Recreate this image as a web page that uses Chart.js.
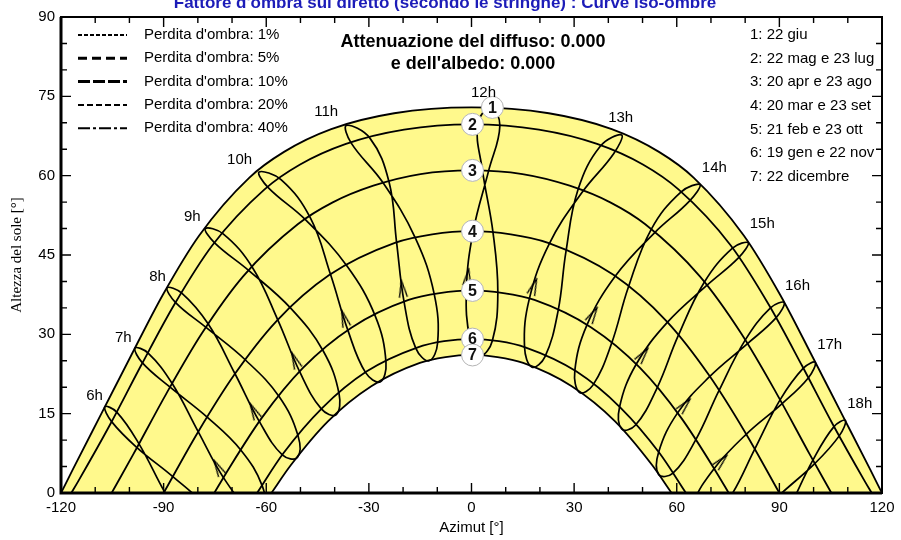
<!DOCTYPE html>
<html>
<head>
<meta charset="utf-8">
<script src="https://cdn.jsdelivr.net/npm/chart.js@4.4.1/dist/chart.umd.min.js"></script>
<style>
  html, body { margin: 0; padding: 0; background: #fff; }
  #wrap { width: 901px; height: 540px; }
</style>
</head>
<body>
<div id="wrap"><canvas id="sunChart"></canvas></div>
<script>
const xTicks = [-120, -90, -60, -30, 0, 30, 60, 90, 120];
const yTicks = [0, 15, 30, 45, 60, 75, 90];

// traiettorie giornaliere [azimut, altezza]
const jun22 = [[-120,0],[-116.5,4.5],[-108.2,15.0],[-99.5,26.0],[-90.3,37.4],[-79.6,48.7],[-65.0,59.6],[-54.8,64.5],[-41.0,68.8],[-22.6,71.8],[0,72.9],
  [22.6,71.8],[41.0,68.8],[54.8,64.5],[65.0,59.6],[79.6,48.7],[90.3,37.4],[99.5,26.0],[108.2,15.0],[116.5,4.5],[120,0]];
const mayJul = [[-117,0],[-114.9,2.3],[-105.6,13.0],[-96.6,24.1],[-87.0,35.5],[-75.8,46.8],[-60.5,57.4],[-50.1,62.1],[-36.7,66.0],[-19.7,68.7],[0,69.7],
  [19.7,68.7],[36.7,66.0],[50.1,62.1],[60.5,57.4],[75.8,46.8],[87.0,35.5],[96.6,24.1],[105.6,13.0],[114.9,2.3],[117,0]];
const aprAug = [[-105.2,0],[-98.8,7.4],[-89.2,18.8],[-78.9,30.1],[-66.7,41.0],[-50.8,50.8],[-40.7,54.9],[-28.7,58.1],[-14.9,60.3],[0,61.0],
  [14.9,60.3],[28.7,58.1],[40.7,54.9],[50.8,50.8],[66.7,41.0],[78.9,30.1],[89.2,18.8],[98.8,7.4],[105.2,0]];
const marSep = [[-90,0],[-80.1,11.35],[-69.4,22.3],[-57.0,32.5],[-41.6,41.2],[-22.4,47.3],[-11.5,48.9],[0,49.5],
  [11.5,48.9],[22.4,47.3],[41.6,41.2],[57.0,32.5],[69.4,22.3],[80.1,11.35],[90,0]];
const febOct = [[-75.2,0],[-71.7,3.8],[-61.2,14.3],[-49.2,23.7],[-35.0,31.3],[-18.4,36.5],[-9.3,37.8],[0,38.3],
  [9.3,37.8],[18.4,36.5],[35.0,31.3],[49.2,23.7],[61.2,14.3],[71.7,3.8],[75.2,0]];
const janNov = [[-62.7,0],[-55.0,7.5],[-43.6,16.1],[-30.6,23.0],[-15.9,27.5],[-8.0,28.7],[0,29.1],
  [8.0,28.7],[15.9,27.5],[30.6,23.0],[43.6,16.1],[55.0,7.5],[62.7,0]];
const dec22 = [[-58.5,0],[-52.9,5.2],[-41.9,13.6],[-29.3,20.2],[-15.1,24.6],[-7.6,25.7],[0,26.1],
  [7.6,25.7],[15.1,24.6],[29.3,20.2],[41.9,13.6],[52.9,5.2],[58.5,0]];

// linee orarie (analemmi): dic, gen, feb, mar, apr, mag, giu, lug, ago, set, ott, nov
const h06 = [[-70.2,-13.1],[-74.4,-13.4],[-82.2,-8.1],[-89.8,0.3],[-97.2,9.3],[-103.7,15.3],[-107.2,16.3],[-105.2,13.5],[-97.8,8.6],[-87.3,3.1],[-77.4,-2.7],[-70.7,-9.0]];
const h07 = [[-60.9,-2.8],[-65.2,-2.7],[-72.5,2.9],[-79.9,11.6],[-87.5,20.7],[-94.6,26.5],[-98.4,27.4],[-96.2,24.6],[-88.1,20.0],[-77.2,14.3],[-67.4,8.1],[-61.2,1.4]];
const h08 = [[-50.9,6.7],[-55.3,7.2],[-62.0,13.5],[-69.1,22.5],[-76.9,31.9],[-84.7,37.8],[-89.0,38.8],[-86.5,36.0],[-77.6,31.3],[-66.0,25.1],[-56.2,18.2],[-50.7,10.8]];
const h09 = [[-39.6,14.8],[-43.9,15.9],[-50.2,22.9],[-56.6,32.7],[-64.0,42.6],[-72.6,49.0],[-77.8,50.0],[-75.1,47.3],[-65.0,42.0],[-52.8,34.9],[-43.3,26.8],[-38.7,18.7]];
const h10 = [[-26.7,21.0],[-31.0,22.8],[-36.1,30.7],[-41.2,41.3],[-47.1,52.0],[-55.6,59.2],[-62.1,60.7],[-59.5,57.8],[-48.4,51.6],[-36.4,42.9],[-28.1,33.4],[-25.0,24.7]];
const h11 = [[-12.4,25.0],[-16.3,27.4],[-19.7,36.1],[-21.9,47.4],[-24.1,58.8],[-29.7,67.1],[-36.6,69.5],[-35.2,66.2],[-25.8,58.6],[-16.4,48.2],[-10.9,37.6],[-9.9,28.4]];
const h12 = [[2.7,26.0],[-0.4,29.1],[-1.5,38.3],[0.5,49.5],[5.0,60.9],[8.3,69.5],[5.6,72.9],[1.8,69.7],[3.2,61.0],[6.3,49.2],[7.7,37.9],[6.1,28.8]];
const h13 = [[17.7,23.8],[15.5,27.6],[16.9,36.7],[22.8,47.2],[32.4,56.9],[41.6,64.2],[43.9,67.7],[37.7,65.6],[31.1,57.3],[27.6,45.6],[25.3,34.4],[21.5,25.8]];
const h14 = [[31.6,19.0],[30.2,23.1],[33.7,31.7],[42.0,41.0],[53.5,49.2],[63.7,55.2],[66.8,58.3],[61.2,56.9],[52.5,49.8],[45.8,38.8],[40.9,28.2],[35.5,20.4]];
const h15 = [[43.9,12.1],[43.3,16.3],[48.1,24.3],[57.3,32.3],[68.7,39.2],[78.1,44.5],[80.9,47.3],[76.3,46.3],[68.0,39.8],[60.4,29.7],[54.2,19.8],[47.9,12.8]];
const h16 = [[54.7,3.5],[54.7,7.7],[60.2,15.1],[69.6,22.0],[80.6,28.2],[89.0,33.1],[91.4,36.0],[87.4,35.0],[80.0,28.9],[72.3,19.3],[65.5,10.0],[58.8,3.7]];
const h17 = [[64.3,-6.4],[64.7,-2.1],[70.9,4.6],[80.3,11.1],[90.8,16.9],[98.5,21.8],[100.5,24.7],[97.0,23.6],[90.2,17.6],[82.8,8.3],[75.7,-0.7],[68.5,-6.5]];
const h18 = [[73.5,-17.0],[74.1,-12.8],[80.6,-6.3],[90.2,-0.3],[100.4,5.6],[107.5,10.8],[109.3,13.7],[105.9,12.5],[99.8,6.2],[92.7,-3.1],[85.4,-11.9],[77.6,-17.4]];

const hourLines = [h06, h07, h08, h09, h10, h11, h12, h13, h14, h15, h16, h17, h18];
const hourLabels = ['6h', '7h', '8h', '9h', '10h', '11h', '12h', '13h', '14h', '15h', '16h', '17h', '18h'];
const hourLabelPos = [[-110.2,18.3],[-101.8,29.3],[-91.8,40.8],[-81.6,52.2],[-67.8,63.0],[-42.5,72.0],[3.5,75.6],[43.6,70.9],[71.0,61.4],[85.0,50.9],[95.3,39.1],[104.7,28.0],[113.5,16.8]];

// frecce sulle linee orarie 7h..17h
const arrowPts = [[-74.1,4.8],[-63.6,15.5],[-51.6,25.1],[-37.2,33.0],[-20.2,38.6],[-1.1,40.8],[18.2,39.0],[35.5,33.7],[50.1,26.1],[62.3,16.6],[73.0,6.0]];

const circlePos = [[6.1,72.9],[0.3,69.7],[0.3,61.0],[0.3,49.5],[0.3,38.3],[0.3,29.1],[0.3,26.1]];

const dayLabels = ['1: 22 giu', '2: 22 mag e 23 lug', '3: 20 apr e 23 ago', '4: 20 mar e 23 set',
  '5: 21 feb e 23 ott', '6: 19 gen e 22 nov', '7: 22 dicembre'];
const lossLabels = ["Perdita d'ombra: 1%", "Perdita d'ombra: 5%", "Perdita d'ombra: 10%",
  "Perdita d'ombra: 20%", "Perdita d'ombra: 40%"];

const SANS = "'Liberation Sans', Arial, sans-serif";
const YELLOW = '#fff98c';

function pts(arr) {
  return arr.map(p => ({ x: p[0], y: p[1] }));
}

// close the loop: one extra point on each side so the curve stays smooth
function loopPts(arr) {
  const n = arr.length;
  return pts([arr[n - 1], ...arr, arr[0], arr[1]]);
}

function hideWrap(ctx) {
  const last = ctx.chart.data.datasets[ctx.datasetIndex].data.length - 1;
  if (ctx.p0DataIndex === 0 || ctx.p1DataIndex === last) {
    return 'rgba(0,0,0,0)';
  }
  return undefined;
}

// arrow head image
const arrowImg = document.createElement('canvas');
arrowImg.width = 10;
arrowImg.height = 19;
(function () {
  const c = arrowImg.getContext('2d');
  c.strokeStyle = '#000';
  c.lineWidth = 1.3;
  c.beginPath();
  c.moveTo(1, 18);
  c.lineTo(5, 1);
  c.lineTo(9, 18);
  c.stroke();
})();

const datasets = [];

datasets.push({
  label: 'numeri',
  data: pts(circlePos),
  showLine: false,
  pointRadius: 11,
  pointBackgroundColor: '#fff',
  pointBorderColor: '#b4b4b4',
  pointBorderWidth: 1,
});

datasets.push({
  label: 'frecce',
  data: pts(arrowPts),
  showLine: false,
  pointStyle: arrowImg,
  pointRadius: 5,
  pointRotation: function (ctx) {
    const xs = ctx.chart.scales.x;
    const ys = ctx.chart.scales.y;
    const line = hourLines[ctx.dataIndex + 1];
    if (!xs || !ys || !line) return 0;
    const dx = xs.getPixelForValue(line[3][0]) - xs.getPixelForValue(line[2][0]);
    const dy = ys.getPixelForValue(line[3][1]) - ys.getPixelForValue(line[2][1]);
    if (!isFinite(dx) || !isFinite(dy)) return 0;
    return Math.atan2(dx, -dy) * 180 / Math.PI;
  },
});

hourLines.forEach((h, i) => {
  datasets.push({
    label: hourLabels[i],
    data: loopPts(h),
    borderColor: '#000',
    borderWidth: 1.7,
    tension: 0.4,
    pointRadius: 0,
    fill: false,
    segment: { borderColor: hideWrap },
  });
});

const dayCurves = [dec22, janNov, febOct, marSep, aprAug, mayJul, jun22];
dayCurves.forEach((d, i) => {
  const ds = {
    label: 'giorno ' + (7 - i),
    data: pts(d),
    borderColor: '#000',
    borderWidth: 1.8,
    cubicInterpolationMode: 'monotone',
    pointRadius: 0,
    fill: false,
  };
  if (d === dec22) {
    ds.fill = 'origin';
    ds.backgroundColor = '#ffffff';
  }
  if (d === jun22) {
    ds.fill = 'origin';
    ds.backgroundColor = YELLOW;
  }
  datasets.push(ds);
});

const overlay = {
  id: 'overlay',
  afterDatasetsDraw(chart) {
    const { ctx, scales: { x, y } } = chart;
    ctx.save();
    ctx.textAlign = 'center';
    ctx.textBaseline = 'middle';
    ctx.fillStyle = '#111';
    ctx.font = 'bold 16px ' + SANS;
    circlePos.forEach((p, i) => {
      ctx.fillText(String(i + 1), x.getPixelForValue(p[0]), y.getPixelForValue(p[1]) + 1);
    });
    ctx.fillStyle = '#000';
    ctx.font = '15px ' + SANS;
    hourLabels.forEach((t, i) => {
      ctx.fillText(t, x.getPixelForValue(hourLabelPos[i][0]), y.getPixelForValue(hourLabelPos[i][1]));
    });
    ctx.restore();
  },
  afterDraw(chart) {
    const { ctx, chartArea: a, scales: { x, y } } = chart;
    ctx.save();
    ctx.strokeStyle = '#000';

    // inward tick marks
    ctx.lineWidth = 1.4;
    ctx.beginPath();
    for (let v = -120; v <= 120; v += 10) {
      const px = x.getPixelForValue(v);
      const len = v % 30 === 0 ? 10 : 6;
      ctx.moveTo(px, a.bottom);
      ctx.lineTo(px, a.bottom - len);
      ctx.moveTo(px, a.top);
      ctx.lineTo(px, a.top + len);
    }
    for (let v = 0; v <= 90; v += 5) {
      const py = y.getPixelForValue(v);
      const len = v % 15 === 0 ? 10 : 6;
      ctx.moveTo(a.left, py);
      ctx.lineTo(a.left + len, py);
      ctx.moveTo(a.right, py);
      ctx.lineTo(a.right - len, py);
    }
    ctx.stroke();

    // frame
    ctx.lineWidth = 2;
    ctx.strokeRect(a.left, a.top, a.right - a.left, a.bottom - a.top);
    ctx.lineWidth = 3;
    ctx.beginPath();
    ctx.moveTo(a.left, a.top);
    ctx.lineTo(a.left, a.bottom);
    ctx.lineTo(a.right, a.bottom);
    ctx.stroke();

    // title (cut at the top like the original)
    ctx.fillStyle = '#1c1cb8';
    ctx.font = 'bold 17px ' + SANS;
    ctx.textAlign = 'center';
    ctx.textBaseline = 'alphabetic';
    ctx.fillText("Fattore d'ombra sul diretto (secondo le stringhe) : Curve iso-ombre", 445, 8);

    // attenuation text
    ctx.fillStyle = '#000';
    ctx.font = 'bold 18px ' + SANS;
    ctx.textBaseline = 'middle';
    ctx.fillText('Attenuazione del diffuso: 0.000', 473, 42);
    ctx.fillText("e dell'albedo: 0.000", 473, 64);

    // loss legend
    const dash = [[4, 2], [9, 5], [12, 3], [6, 3], [12, 3, 3, 3]];
    const widths = [2, 3, 3, 2, 2];
    ctx.font = '15px ' + SANS;
    ctx.textAlign = 'left';
    lossLabels.forEach((t, i) => {
      const yy = 35 + i * 23.3;
      ctx.setLineDash(dash[i]);
      ctx.lineWidth = widths[i];
      ctx.beginPath();
      ctx.moveTo(78, yy);
      ctx.lineTo(127, yy);
      ctx.stroke();
      ctx.setLineDash([]);
      ctx.fillText(t, 144, yy);
    });

    // day legend
    dayLabels.forEach((t, i) => {
      ctx.fillText(t, 750, 35 + i * 23.6);
    });
    ctx.restore();
  },
};

new Chart(document.getElementById('sunChart'), {
  type: 'line',
  data: { datasets },
  options: {
    responsive: true,
    maintainAspectRatio: false,
    animation: false,
    events: [],
    layout: { padding: { top: 17, right: 19, left: 0, bottom: 0 } },
    plugins: {
      legend: { display: false },
      tooltip: { enabled: false },
      filler: { drawTime: 'beforeDatasetsDraw' },
    },
    scales: {
      x: {
        type: 'linear',
        min: -120,
        max: 120,
        afterFit: (s) => { s.height = 47; },
        afterBuildTicks: (s) => { s.ticks = xTicks.map(v => ({ value: v })); },
        grid: { display: false, drawTicks: false },
        border: { display: false },
        ticks: { padding: 6, color: '#000', font: { family: SANS, size: 15 } },
        title: {
          display: true,
          text: 'Azimut [°]',
          color: '#000',
          font: { family: SANS, size: 15 },
          padding: { top: 0, bottom: 3 },
        },
      },
      y: {
        type: 'linear',
        min: 0,
        max: 90,
        afterFit: (s) => { s.width = 61; },
        afterBuildTicks: (s) => { s.ticks = yTicks.map(v => ({ value: v })); },
        grid: { display: false, drawTicks: false },
        border: { display: false },
        ticks: { padding: 6, color: '#000', font: { family: SANS, size: 15 } },
        title: {
          display: true,
          text: 'Altezza del sole [°]',
          color: '#000',
          font: { family: "'Liberation Serif', 'DejaVu Serif', serif", size: 15 },
          padding: { top: 8, bottom: 0 },
        },
      },
    },
  },
  plugins: [overlay],
});
</script>
</body>
</html>
